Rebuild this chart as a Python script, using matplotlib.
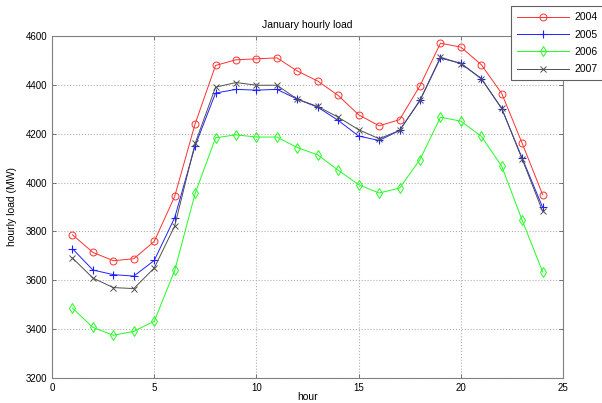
import matplotlib
matplotlib.use('Agg')
import matplotlib.pyplot as plt
import numpy as np

# hourly load values (MW)
hours = np.arange(1, 25)
load_2004 = [3786, 3714, 3680, 3688, 3759, 3943, 4240, 4479, 4502, 4506, 4510, 4456,
             4415, 4356, 4277, 4232, 4257, 4396, 4570, 4554, 4482, 4364, 4160, 3950]
load_2005 = [3729, 3642, 3623, 3617, 3681, 3856, 4150, 4366, 4381, 4378, 4381, 4341,
             4308, 4254, 4190, 4172, 4213, 4336, 4509, 4488, 4425, 4302, 4099, 3898]
load_2006 = [3486, 3407, 3375, 3391, 3432, 3640, 3955, 4183, 4195, 4186, 4186, 4143,
             4113, 4050, 3991, 3957, 3977, 4094, 4267, 4251, 4189, 4066, 3845, 3634]
load_2007 = [3691, 3609, 3570, 3566, 3650, 3822, 4160, 4390, 4409, 4398, 4398, 4341,
             4311, 4267, 4216, 4179, 4213, 4336, 4513, 4486, 4425, 4303, 4095, 3882]
years = ['2004', '2005', '2006', '2007']

plt.rcParams['font.family'] = ['Liberation Sans', 'DejaVu Sans']
fig = plt.figure(figsize=(6.02, 4.03), dpi=100)
ax = fig.add_axes([0.0864, 0.062, 0.849, 0.849])

ax.plot(hours, load_2004, color='#ff3030', marker='o', markersize=5, mfc='none', lw=0.7, mew=0.7, label=years[0])
ax.plot(hours, load_2005, color='#2020ff', marker='+', markersize=6, lw=0.7, mew=0.8, label=years[1])
ax.plot(hours, load_2006, color='#20ff20', marker='d', markersize=5, mfc='none', lw=0.7, mew=0.7, label=years[2])
ax.plot(hours, load_2007, color='#505050', marker='x', markersize=4, lw=0.7, mew=0.7, label=years[3])

ax.set_xlim(0, 25)
ax.set_ylim(3200, 4600)
ax.set_xticks(np.arange(0, 26, 5))
ax.set_yticks(np.arange(3200, 4601, 200))
ax.grid(True, linestyle=':', color='#b0b0b0', lw=0.8)
ax.tick_params(direction='in', top=True, right=True, labelsize=7, length=3, width=0.6, color='#606060')
for s in ax.spines.values():
    s.set_color('#808080')
    s.set_linewidth(0.8)

ax.set_title('January hourly load', fontsize=7.5, pad=6)
ax.set_xlabel('hour', fontsize=7.5)
ax.xaxis.set_label_coords(0.5, -0.042)
ax.set_ylabel('hourly load (MW)', fontsize=7.5, labelpad=6)

leg = fig.legend(loc='upper right', bbox_to_anchor=(1.003, 0.985), fontsize=7.5,
                 fancybox=False, framealpha=1, edgecolor='#606060', handlelength=5.0,
                 borderpad=0.6, labelspacing=0.7, handletextpad=0.5, borderaxespad=0)
leg.get_frame().set_linewidth(0.8)

fig.savefig('out.png', dpi=100)
